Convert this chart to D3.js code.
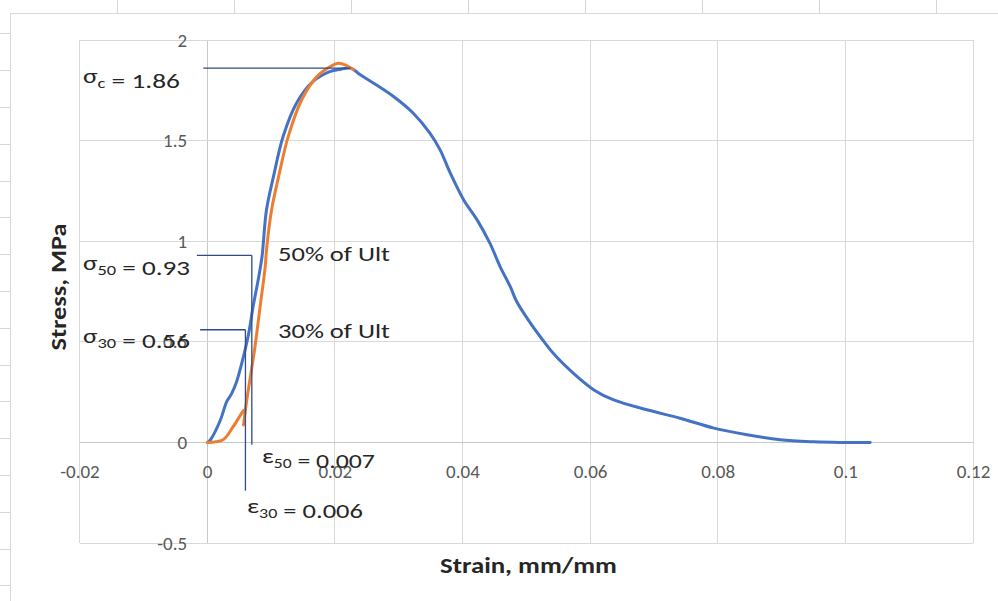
<!DOCTYPE html>
<html>
<head>
<meta charset="utf-8">
<script src="https://cdn.jsdelivr.net/npm/d3@7"></script>
<style>
  body { margin: 0; background: #fff; overflow: hidden; }
  svg { display: block; }
  text { font-family: Carlito, Calibri, Lato, "Liberation Sans", sans-serif; }
</style>
</head>
<body>
<svg id="chart" width="998" height="601"></svg>
<script>
// Unconfined compression test: stress–strain records of two specimens
const blueStrain = [0.0001, 0.0005, 0.0020, 0.0031, 0.0038, 0.0046, 0.0054, 0.0065, 0.0072, 0.0080,
  0.0086, 0.0093, 0.0104, 0.0119, 0.0140, 0.0166, 0.0192, 0.0210, 0.0225, 0.0240,
  0.0261, 0.0292, 0.0323, 0.0349, 0.0365, 0.0381, 0.0402, 0.0423, 0.0443, 0.0459,
  0.0475, 0.0485, 0.0506, 0.0522, 0.0543, 0.0574, 0.0606, 0.0637, 0.0689, 0.0741,
  0.0794, 0.0846, 0.0898, 0.0950, 0.0992, 0.1039];
const blueStress = [0, 0.012, 0.105, 0.205, 0.240, 0.300, 0.390, 0.540, 0.675, 0.808,
  0.924, 1.156, 1.322, 1.520, 1.686, 1.794, 1.843, 1.855, 1.860, 1.827,
  1.785, 1.719, 1.636, 1.537, 1.454, 1.338, 1.205, 1.106, 0.990, 0.874,
  0.774, 0.700, 0.595, 0.525, 0.440, 0.343, 0.261, 0.211, 0.162, 0.120,
  0.071, 0.038, 0.013, 0.003, 0, 0];

const orangeStrain = [0, 0.0025, 0.0041, 0.0059, 0.0057, 0.0061, 0.0067, 0.0075, 0.0083, 0.0091,
  0.0093, 0.0101, 0.0112, 0.0127, 0.0148, 0.0172, 0.0193, 0.0206, 0.0219, 0.0229];
const orangeStress = [0, 0.013, 0.079, 0.162, 0.087, 0.186, 0.311, 0.477, 0.675, 0.874,
  0.956, 1.156, 1.321, 1.520, 1.702, 1.818, 1.868, 1.885, 1.872, 1.852];

const xTicks = [-0.02, 0, 0.02, 0.04, 0.06, 0.08, 0.1, 0.12];
const xTickLabels = ["-0.02", "0", "0.02", "0.04", "0.06", "0.08", "0.1", "0.12"];
const yTicks = [-0.5, 0, 0.5, 1, 1.5, 2];
const yTickLabels = ["-0.5", "0", "0.5", "1", "1.5", "2"];

// Characteristic values of the test
const peakStress = 1.86;
const stress50 = 0.93;
const stress30 = 0.56;
const strain50 = 0.007;
const strain30 = 0.006;

const svg = d3.select("#chart");

// Worksheet cells showing around the chart object
const sheet = svg.append("g").attr("stroke", "#d6d6d6").attr("stroke-width", 1);
d3.range(1, 9).forEach(k => {
  sheet.append("line").attr("x1", 117 * k + 0.5).attr("x2", 117 * k + 0.5).attr("y1", 0).attr("y2", 13);
});
d3.range(0, 16).forEach(k => {
  const yy = Math.round(33.4 + 36.8 * k) + 0.5;
  sheet.append("line").attr("x1", 0).attr("x2", 10).attr("y1", yy).attr("y2", yy);
});

// Chart area
svg.append("rect").attr("x", 10.5).attr("y", 13.5).attr("width", 1000).attr("height", 700)
  .attr("fill", "#fff").attr("stroke", "#d9d9d9");

const x = d3.scaleLinear().domain([-0.02, 0.12]).range([79.5, 973]);
const y = d3.scaleLinear().domain([-0.5, 2]).range([543, 40]);

// Gridlines
const grid = svg.append("g").attr("stroke", "#d9d9d9").attr("stroke-width", 1).attr("shape-rendering", "crispEdges");
xTicks.forEach(t => {
  grid.append("line").attr("x1", x(t)).attr("x2", x(t)).attr("y1", y(2)).attr("y2", y(-0.5))
    .attr("stroke", t === 0 ? "#c8c8c8" : null);
});
yTicks.forEach(t => {
  grid.append("line").attr("x1", x(-0.02)).attr("x2", x(0.12)).attr("y1", y(t)).attr("y2", y(t))
    .attr("stroke", t === 0 ? "#c8c8c8" : null);
});

// Axes crossing at the origin
const yAxis = svg.append("g").attr("transform", `translate(${x(0)},0)`)
  .call(d3.axisLeft(y).tickValues(yTicks).tickFormat((d, i) => yTickLabels[i]).tickSize(0).tickPadding(20));
const xAxis = svg.append("g").attr("transform", `translate(0,${y(0)})`)
  .call(d3.axisBottom(x).tickValues(xTicks).tickFormat((d, i) => xTickLabels[i]).tickSize(0).tickPadding(22));
[yAxis, xAxis].forEach(a => {
  a.select(".domain").remove();
  a.selectAll("text").attr("font-size", 19).attr("fill", "#595959")
    .style("font-family", 'Carlito, Calibri, Lato, "Liberation Sans", sans-serif');
});

// Stress–strain curves
const line = d3.line().x(d => x(d[0])).y(d => y(d[1])).curve(d3.curveCatmullRom.alpha(0.5));
const blue = blueStrain.map((s, i) => [s, blueStress[i]]);
const orange = orangeStrain.map((s, i) => [s, orangeStress[i]]);
svg.append("path").datum(blue).attr("d", line).attr("fill", "none")
  .attr("stroke", "#4472C4").attr("stroke-width", 3).attr("stroke-linejoin", "round").attr("stroke-linecap", "round");
svg.append("path").datum(orange).attr("d", line).attr("fill", "none")
  .attr("stroke", "#ED7D31").attr("stroke-width", 3).attr("stroke-linejoin", "round").attr("stroke-linecap", "round");

// Leader lines for the characteristic points
const lead = svg.append("g").attr("stroke", "#2f4b8a").attr("stroke-width", 1.3);
lead.append("line").attr("x1", x(-0.0006)).attr("x2", x(0.0225)).attr("y1", y(peakStress)).attr("y2", y(peakStress));
lead.append("line").attr("x1", x(-0.0016)).attr("x2", x(strain50)).attr("y1", y(stress50)).attr("y2", y(stress50));
lead.append("line").attr("x1", x(-0.0011)).attr("x2", x(strain30)).attr("y1", y(stress30)).attr("y2", y(stress30));
lead.append("line").attr("x1", x(strain50)).attr("x2", x(strain50)).attr("y1", y(stress50)).attr("y2", y(-0.012));
lead.append("line").attr("x1", x(strain30)).attr("x2", x(strain30)).attr("y1", y(stress30)).attr("y2", y(-0.24));

// Text helper: parts with optional subscripts, stretched to a given width
function label(px, py, width, parts, opts = {}) {
  const g = svg.append("g");
  const t = g.append("text").attr("x", 0).attr("y", 0)
    .attr("font-size", opts.size || 21).attr("font-weight", opts.weight || "normal")
    .attr("fill", opts.fill || "#262626").attr("text-anchor", opts.anchor || "start");
  parts.forEach(p => {
    if (p.sub) {
      t.append("tspan").attr("font-size", "0.68em").attr("dy", 5).text(p.sub);
      t.append("tspan").attr("dy", -5).text("");
    } else {
      t.append("tspan").text(p.t);
    }
  });
  const bw = t.node().getBBox().width;
  const s = width / bw;
  g.attr("transform", `translate(${px},${py})` + (opts.rotate ? ` rotate(${opts.rotate})` : "") + ` scale(${s},1)`);
  return g;
}

label(83, 83, 97, [{ t: "σ" }, { sub: "c" }, { t: " = " + peakStress.toFixed(2) }]);
label(83, 270, 107, [{ t: "σ" }, { sub: "50" }, { t: " = " + stress50.toFixed(2) }]);
label(83, 343, 107, [{ t: "σ" }, { sub: "30" }, { t: " = " + stress30.toFixed(2) }]);
label(278, 261, 112, [{ t: "50% of Ult" }]);
label(278, 338, 112, [{ t: "30% of Ult" }]);
label(262, 463, 113, [{ t: "ε" }, { sub: "50" }, { t: " = " + strain50.toFixed(3) }]);
label(247, 513, 116, [{ t: "ε" }, { sub: "30" }, { t: " = " + strain30.toFixed(3) }]);

// Axis titles
label(440, 573, 177, [{ t: "Strain, mm/mm" }], { size: 22, weight: "bold", fill: "#262626" });
label(66, 287, 127, [{ t: "Stress, MPa" }], { size: 22, weight: "bold", fill: "#262626", anchor: "middle", rotate: -90 });
</script>
</body>
</html>
